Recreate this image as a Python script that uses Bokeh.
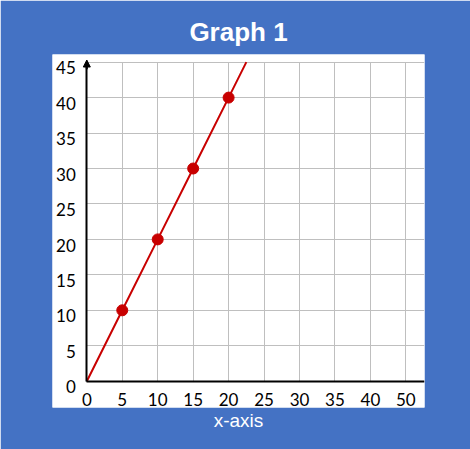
from bokeh.plotting import figure
from bokeh.models import Range1d, LinearAxis, FixedTicker, Arrow, NormalHead
from bokeh.embed import file_html
from bokeh.resources import INLINE

# ---- data ----
title_text = "Graph 1"
x_axis_text = "x-axis"
x_ticks = [0, 5, 10, 15, 20, 25, 30, 35, 40, 45]
x_tick_labels = ["0", "5", "10", "15", "20", "25", "30", "35", "40", "50"]
y_ticks = [0, 5, 10, 15, 20, 25, 30, 35, 40, 45]
y_tick_labels = ["0", "5", "10", "15", "20", "25", "30", "35", "40", "45"]
pts_x = [5, 10, 15, 20]
pts_y = [10, 20, 30, 40]
line_x = [0, 5, 10, 15, 20, 22.5]
line_y = [0, 10, 20, 30, 40, 45]
x_start, x_end = -4.84, 47.63
y_start, y_end = -3.71, 46.08
y_label_shift = 0.8  # y labels sit just below their gridline

BLUE = "#4472c4"
RED = "#c80000"
TICK_FONT = "Lato"

p = figure(width=470, height=449, output_backend="svg", toolbar_location=None,
           x_range=Range1d(x_start, x_end), y_range=Range1d(y_start, y_end),
           min_border_left=52, min_border_right=46, min_border_top=54, min_border_bottom=42,
           border_fill_color=BLUE, background_fill_color="white", outline_line_color=None)
p.extra_y_ranges = {"ylab": Range1d(y_start + y_label_shift, y_end + y_label_shift)}

p.title.text = title_text
p.title.align = "center"
p.title.text_color = "white"
p.title.text_font = "Liberation Sans"
p.title.text_font_size = "26px"
p.title.text_font_style = "bold"
p.title.standoff = 16


def style_axis(ax, so):
    ax.major_tick_line_color = None
    ax.minor_tick_line_color = None
    ax.major_tick_out = 0
    ax.minor_tick_out = 0
    ax.major_tick_in = 0
    ax.minor_tick_in = 0
    ax.major_label_standoff = so
    ax.major_label_text_font = TICK_FONT
    ax.major_label_text_font_size = "17px"
    ax.major_label_text_color = "black"


# axes drawn at the origin
xa = p.xaxis[0]
xa.fixed_location = 0
xa.ticker = FixedTicker(ticks=x_ticks)
xa.major_label_overrides = {t: l for t, l in zip(x_ticks, x_tick_labels)}
xa.bounds = (0, x_end)
xa.axis_line_color = "black"
xa.axis_line_width = 2
style_axis(xa, 12)

ya = p.yaxis[0]
ya.fixed_location = 0
ya.ticker = FixedTicker(ticks=y_ticks)
ya.bounds = (0, y_ticks[-1])
ya.axis_line_color = "black"
ya.axis_line_width = 2
style_axis(ya, 11)
ya.major_label_text_color = None

# y tick labels (on a shifted copy of the y scale)
yl = LinearAxis(y_range_name="ylab", ticker=FixedTicker(ticks=y_ticks),
                major_label_overrides={t: l for t, l in zip(y_ticks, y_tick_labels)},
                axis_line_color=None)
yl.fixed_location = 0
style_axis(yl, 11)
p.add_layout(yl, "left")

# grids
p.xgrid.ticker = FixedTicker(ticks=x_ticks)
p.ygrid.ticker = FixedTicker(ticks=y_ticks)
p.xgrid.cross_bounds = (0, y_ticks[-1])
p.ygrid.cross_bounds = (0, x_end)
for g in (p.xgrid, p.ygrid):
    g.grid_line_color = "#bfbfbf"
    g.grid_line_width = 1
    g.grid_line_alpha = 1

# axis title below the white panel
lab_axis = LinearAxis(ticker=FixedTicker(ticks=[]), axis_label=x_axis_text,
                      axis_line_color=None, major_tick_line_color=None,
                      minor_tick_line_color=None, major_tick_out=0, minor_tick_out=0,
                      major_label_text_font_size="0px", major_label_standoff=0,
                      axis_label_standoff=2, axis_label_text_color="white",
                      axis_label_text_font="Liberation Sans",
                      axis_label_text_font_size="19px",
                      axis_label_text_font_style="normal")
p.add_layout(lab_axis, "below")

# y-axis arrow head
p.add_layout(Arrow(end=NormalHead(size=7, fill_color="black", line_color="black"),
                   x_start=0, y_start=y_ticks[-1] - 1, x_end=0, y_end=y_ticks[-1] + 0.3,
                   line_color="black", line_width=2))

p.line(line_x, line_y, line_color=RED, line_width=2)
p.scatter(pts_x, pts_y, size=11, fill_color=RED, line_color=RED)

open("out.html", "w").write(file_html(p, INLINE))
